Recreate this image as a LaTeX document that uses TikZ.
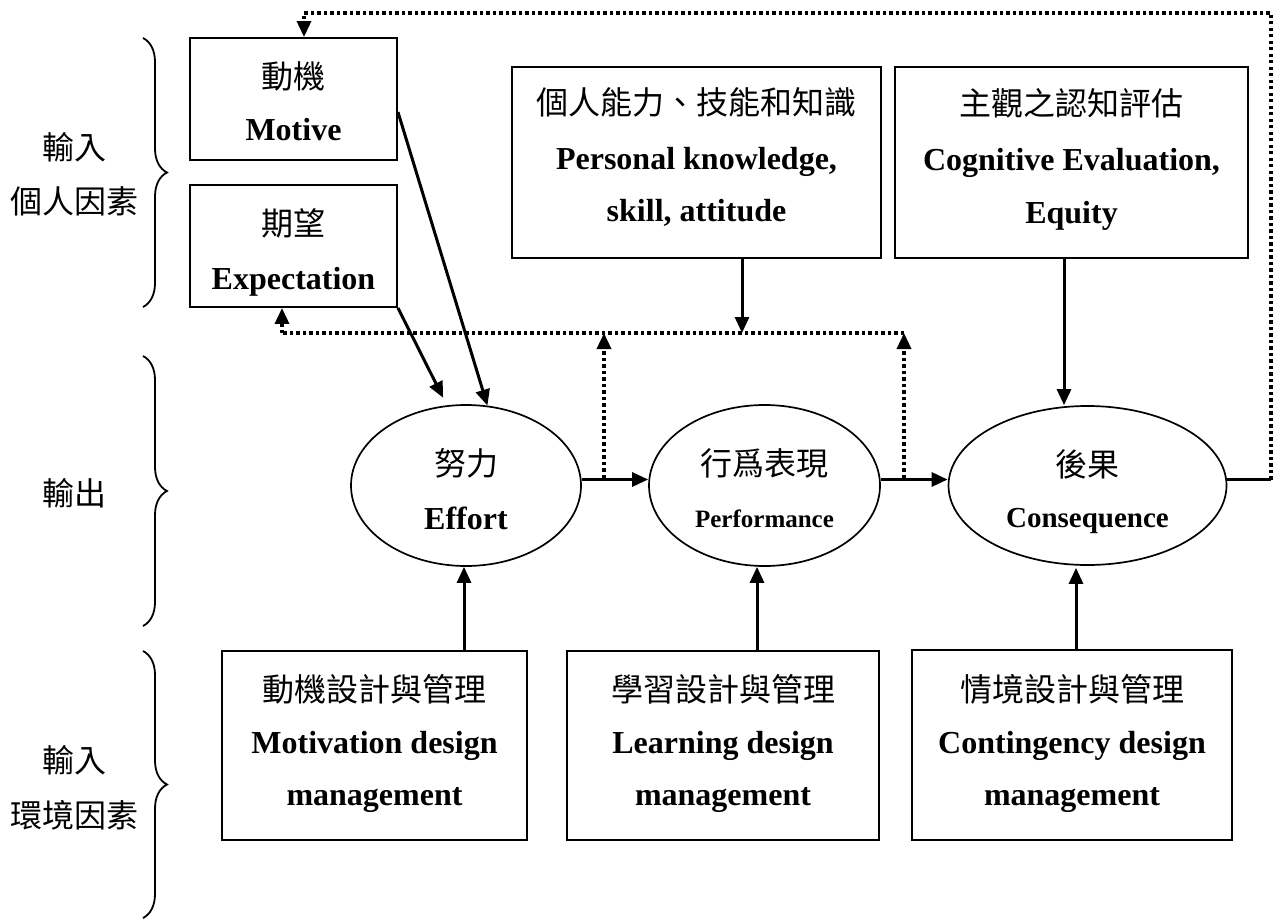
\documentclass[tikz,border=0pt]{standalone}
\usepackage{fontspec}
\setmainfont{Liberation Serif}
\newfontfamily\cjk{Noto Sans CJK TC}
\usetikzlibrary{arrows.meta,decorations.pathreplacing,shapes.geometric,calc}
\begin{document}
\begin{tikzpicture}[x=1pt,y=-1pt,
  box/.style={draw, line width=1.9pt, inner sep=0pt},
  oval/.style={draw, ellipse, line width=1.7pt, inner sep=0pt},
  zh/.style={font=\cjk\fontsize{32}{32}\selectfont, anchor=base, inner sep=0pt},
  en/.style={font=\bfseries\fontsize{32}{32}\selectfont, anchor=base, inner sep=0pt},
  arr/.style={line width=3pt, -{Triangle[length=16pt,width=14pt]}},
  dots/.style={line width=3.4pt, dash pattern=on 3.4pt off 3.1pt},
  darr/.style={dots, -{Triangle[length=16pt,width=14pt]}},
  brc/.style={decorate, decoration={brace, amplitude=24pt}, line width=1.8pt},
]
\useasboundingbox (0,0) rectangle (1276,920);

% boxes
\node[box, minimum width=207pt, minimum height=122pt] (m) at (293.5,99) {};
\node[box, minimum width=207pt, minimum height=122pt] (x) at (293.5,246) {};
\node[box, minimum width=369pt, minimum height=191pt] (pk) at (696.5,162.5) {};
\node[box, minimum width=353pt, minimum height=191pt] (cg) at (1071.5,162.5) {};
\node[box, minimum width=305pt, minimum height=189pt] (mb) at (374.5,745.5) {};
\node[box, minimum width=312pt, minimum height=189pt] (lb) at (723,745.5) {};
\node[box, minimum width=320pt, minimum height=190pt] (cb) at (1072,745) {};

% ellipses
\node[oval, minimum width=230pt, minimum height=161pt] (e) at (466,485.5) {};
\node[oval, minimum width=231pt, minimum height=161pt] (p) at (764.5,485.5) {};
\node[oval, minimum width=278pt, minimum height=159pt] (c) at (1087.5,485.5) {};

% texts
\node[zh] (t1) at (293.5,89) {動機};
\node[en] (t2) at (293.5,141) {Motive};
\node[zh] (t3) at (293.5,235) {期望};
\node[en] (t4) at (293.5,289) {Expectation};

\node[zh] (t5) at (696.5,115) {個人能力、技能和知識};
\node[en] (t6) at (696.5,170) {Personal knowledge,};
\node[en] (t7) at (696.5,222) {skill, attitude};

\node[zh] (t8) at (1071.5,116) {主觀之認知評估};
\node[en] (t9) at (1071.5,171) {Cognitive Evaluation,};
\node[en] (t10) at (1071.5,223) {Equity};

\node[zh] (t11) at (466,475) {努力};
\node[en] (t12) at (466,529) {Effort};
\node[zh] (t13) at (764.5,475) {行爲表現};
\node[en, font=\bfseries\fontsize{25}{25}\selectfont] (t14) at (764.5,527) {Performance};
\node[zh] (t15) at (1087.5,476) {後果};
\node[en, font=\bfseries\fontsize{29}{29}\selectfont] (t16) at (1087.5,527) {Consequence};

\node[zh] (t17) at (374.5,701) {動機設計與管理};
\node[en] (t18) at (374.5,753) {Motivation design};
\node[en] (t19) at (374.5,805) {management};
\node[zh] (t20) at (723,701) {學習設計與管理};
\node[en] (t21) at (723,753) {Learning design};
\node[en] (t22) at (723,805) {management};
\node[zh] (t23) at (1072,701) {情境設計與管理};
\node[en] (t24) at (1072,753) {Contingency design};
\node[en] (t25) at (1072,805) {management};

% left labels
\node[zh] (l1) at (74,160) {輸入};
\node[zh] (l2) at (74,214) {個人因素};
\node[zh] (l3) at (74,505) {輸出};
\node[zh] (l4) at (74,772) {輸入};
\node[zh] (l5) at (74,827) {環境因素};

% braces
\draw[brc] (143,38) -- (143,307);
\draw[brc] (143,356) -- (143,626);
\draw[brc] (143,651) -- (143,918);

% solid arrows
\draw[arr] ($(m.east)+(0,13)$) -- (e.75);
\draw[arr] (x.south east) -- ($(e.106)+(0,-8)$);
\draw[arr] ($(e.east)+(0,-6)$) -- ($(p.west)+(0,-6)$);
\draw[arr] ($(p.east)+(0,-6)$) -- ($(c.west)+(0,-6)$);
\coordinate (cga) at ($(cg.south)+(-7.5,0)$);
\draw[arr] (cga) -- (cga |- c.north);
\draw[arr] ($(mb.north -| e.south)+(-2,0)$) -- ($(e.south)+(-2,0)$);
\draw[arr] ($(lb.north -| p.south)+(-7.5,0)$) -- ($(p.south)+(-7.5,0)$);
\draw[arr] ($(cb.north -| c.south)+(-11.5,0)$) -- ($(c.south)+(-11.5,2)$);

% feedback loop to motive
\coordinate (r1) at (1271,479.5);
\coordinate (r2) at (1271,13);
\coordinate (r3) at (304,13);
\draw[line width=3pt] ($(c.east)+(0,-6)$) -- (r1);
\draw[darr] (r1) -- (r2) -- (r3) -- (r3 |- m.north);

% lower dotted network
\coordinate (u1) at (604,478);
\coordinate (u2) at (904,478);
\coordinate (d1) at (604,333);
\coordinate (d2) at (904,333);
\coordinate (d0) at (282,333);
\coordinate (pka) at ($(pk.south)+(45.5,0)$);
\draw[arr] (pka) -- (pka |- d1);
\draw[darr] (u1) -- (d1);
\draw[darr] (u2) -- (d2);
\draw[dots] (d2) -- (d0);
\draw[darr] (d0) -- (d0 |- x.south);
\end{tikzpicture}
\end{document}
